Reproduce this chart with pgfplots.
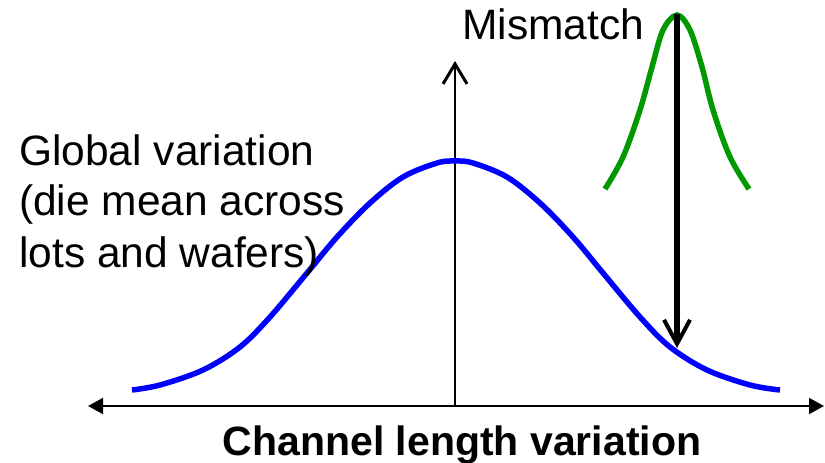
\documentclass[border=0pt]{standalone}
\usepackage{pgfplots}
\pgfplotsset{compat=1.18}
\usetikzlibrary{arrows.meta}
\usepackage{fontspec}
\setmainfont{Liberation Sans}
\definecolor{mygreen}{RGB}{0,153,0}
\begin{document}
\begin{tikzpicture}
\begin{axis}[
  width=825pt, height=463pt, scale only axis,
  xmin=0, xmax=825, ymin=0, ymax=463, y dir=reverse,
  hide axis, clip=false,
]
% x axis (double arrow)
\addplot[black, line width=2pt, {Triangle[length=15pt,width=16pt]}-{Triangle[length=15pt,width=16pt]}]
  coordinates {(88,406) (824,406)};
% vertical axis
\addplot[black, line width=1.8pt, -{Straight Barb[length=20pt,width=24pt,line width=3pt]}]
  coordinates {(455,406) (455,61)};
% global (blue) distribution
\addplot[blue, line width=5.5pt, smooth, tension=0.55] coordinates {
  (132,390) (160,385) (203,370) (240,347) (270,317) (307,273) (337,237)
  (370,203) (403,177) (437,163) (455,161) (473,163) (507,177) (540,203)
  (573,237) (603,273) (640,317) (670,347) (707,370) (750,385) (780,390)};
% mismatch (green) distribution
\addplot[mygreen, line width=5.5pt, smooth, tension=0.55] coordinates {
  (605,189) (623,157) (640,110) (652,67) (663,30) (677,15)
  (690,30) (702,67) (713,110) (730,157) (749,189)};
% black arrow
\addplot[black, line width=6pt, -{Straight Barb[length=24pt,width=26pt,line width=4pt]}]
  coordinates {(677,14) (677,348)};
% texts
\node[anchor=base west, inner sep=0pt, font=\fontsize{42.5}{50}\selectfont] at (axis cs:462,39) {Mismatch};
\node[anchor=base west, inner sep=0pt, font=\fontsize{42.5}{50}\selectfont] at (axis cs:19,165) {Global variation};
\node[anchor=base west, inner sep=0pt, font=\fontsize{42.5}{50}\selectfont] at (axis cs:19,215) {(die mean across};
\node[anchor=base west, inner sep=0pt, font=\fontsize{42.5}{50}\selectfont] at (axis cs:19,267) {lots and wafers)};
\node[anchor=base, inner sep=0pt, font=\fontsize{41}{50}\selectfont\bfseries] at (axis cs:462,455) {Channel length variation};
\coordinate (sw) at (axis cs:0,463);
\coordinate (ne) at (axis cs:825,0);
\end{axis}
\pgfresetboundingbox
\path (sw) rectangle (ne);
\end{tikzpicture}
\end{document}
